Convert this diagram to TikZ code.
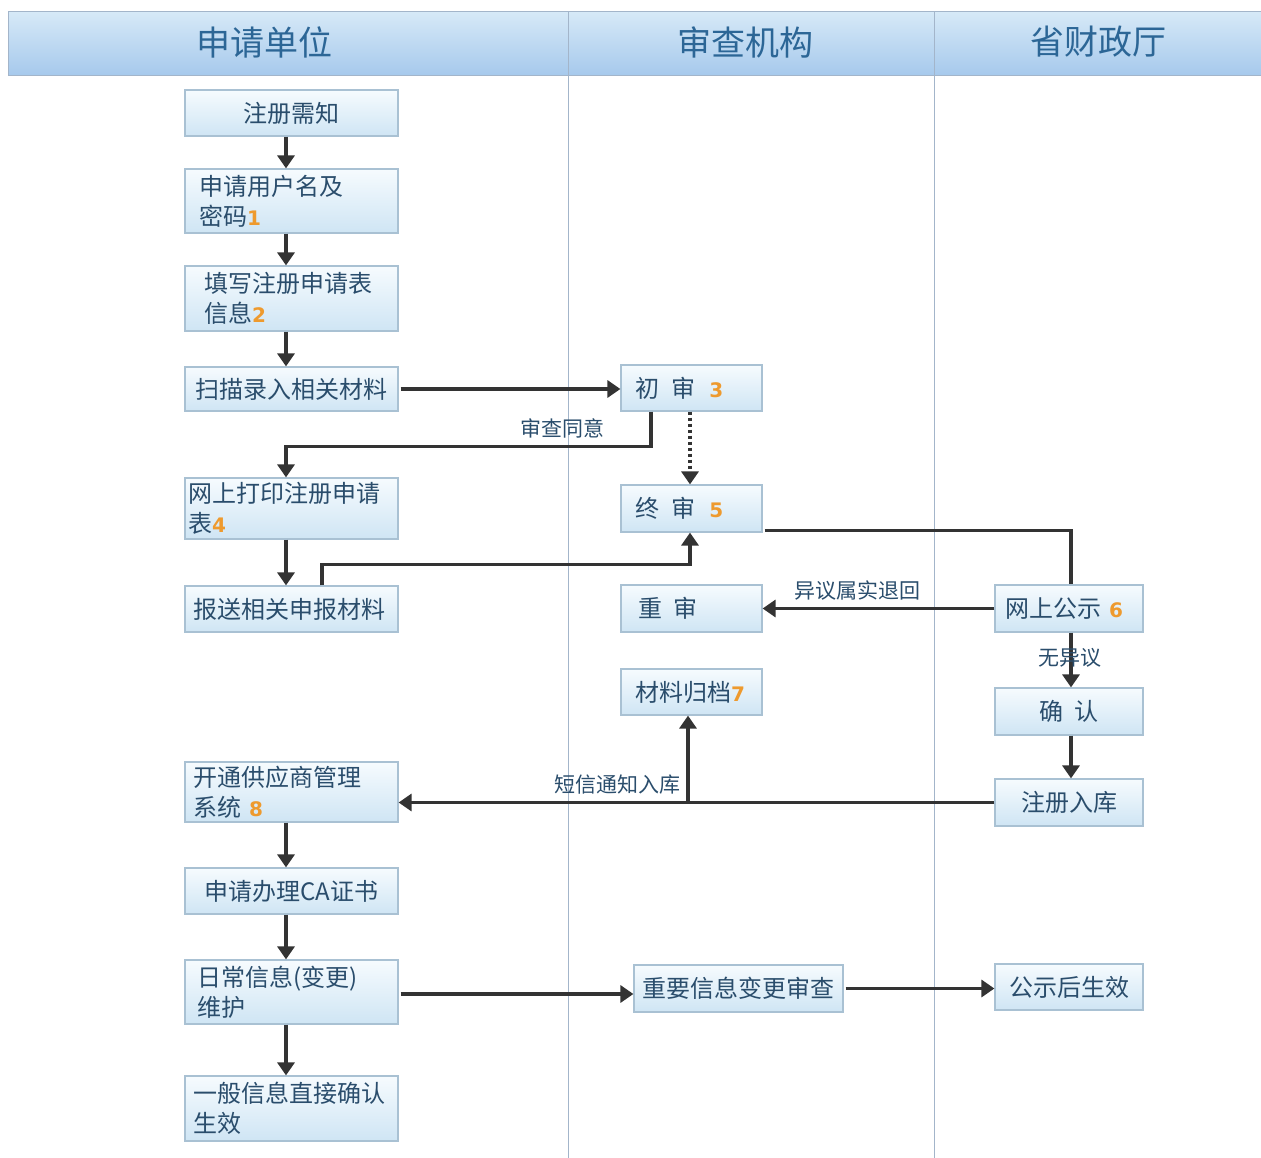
\documentclass[tikz,border=0pt]{standalone}
\usepackage{fontspec}
\setmainfont{Noto Sans CJK SC}
\newfontfamily\numfont{DejaVu Sans}
\usetikzlibrary{arrows.meta}
\definecolor{txt}{HTML}{2A4D6C}
\definecolor{hdtxt}{HTML}{2C6696}
\definecolor{boxline}{HTML}{A9C1D3}
\definecolor{boxtop}{HTML}{F6FBFE}
\definecolor{boxbot}{HTML}{CFE5F4}
\definecolor{hdtop}{HTML}{D6E9F7}
\definecolor{hdmid}{HTML}{EEF8FD}
\definecolor{hdbot}{HTML}{A6C9EC}
\definecolor{divline}{HTML}{A3B5CA}
\definecolor{arr}{HTML}{333333}
\definecolor{numor}{HTML}{EE9A2E}
\newcommand\orn[1]{{\numfont\bfseries\fontsize{20}{24}\selectfont\color{numor}#1}}
\tikzset{
  box/.style={draw=boxline, line width=1.2pt, top color=boxtop, bottom color=boxbot,
    inner ysep=0pt, font=\fontsize{24}{30}\selectfont, text=txt},
  L/.style={box, minimum height=#1, text width=197pt, inner xsep=8pt, align=left},
  LC/.style={box, minimum height=#1, text width=197pt, inner xsep=8pt, align=center},
  M/.style={box, minimum height=#1, text width=113pt, inner xsep=14pt, align=left},
  R/.style={box, minimum height=#1, text width=128pt, inner xsep=10pt, align=left},
  RC/.style={box, minimum height=#1, text width=128pt, inner xsep=10pt, align=center},
  flow/.style={line width=3.4pt, draw=arr, -{Triangle[width=17pt,length=13pt]}},
  plain/.style={line width=3.4pt, draw=arr},
  dotflow/.style={line width=3.4pt, draw=arr, dash pattern=on 3.5pt off 2.5pt, -{Triangle[width=17pt,length=13pt]}},
  lbl/.style={font=\fontsize{21}{24}\selectfont, text=txt, inner sep=0pt},
  hd/.style={font=\fontsize{34}{38}\selectfont, text=hdtxt, inner sep=0pt},
}
\begin{document}
\begin{tikzpicture}[x=1pt,y=-1pt]
\useasboundingbox (0,0) rectangle (1261,1158);
\fill[white] (0,0) rectangle (1261,1158);
% header
\shade[top color=hdtop, middle color=hdmid, bottom color=hdbot] (8,12) rectangle (1261,76);
\draw[divline, line width=1pt] (1261,12) -- (8,12) -- (8,76) -- (1261,76);
\draw[divline, line width=1pt] (568,12) -- (568,1158);
\draw[divline, line width=1pt] (934,12) -- (934,1158);
\node[hd] (h1) at (264.5,42) {申请单位};
\node[hd] (h2) at (745,42) {审查机构};
\node[hd] (h3) at (1098,42) {省财政厅};
% left column
\node[LC=46pt] (n1) at (291.5,113) {注册需知};
\node[L=64pt] (n2) at (291.5,201) {\hspace*{6pt}申请用户名及\\\hspace*{6pt}密码\orn{1}};
\node[L=65pt] (n3) at (291.5,298.5) {\hspace*{11pt}填写注册申请表\\\hspace*{11pt}信息\orn{2}};
\node[LC=44pt] (n4) at (291.5,389) {扫描录入相关材料};
\node[L=61pt] (n5) at (291.5,508.5) {\hspace*{-5pt}网上打印注册申请\\\hspace*{-5pt}表\orn{4}};
\node[L=46pt] (n6) at (291.5,609) {报送相关申报材料};
\node[L=60pt] (n7) at (291.5,792) {开通供应商管理\\系统 \orn{8}};
\node[LC=46pt] (n8) at (291.5,891) {申请办理CA证书};
\node[L=64pt] (n9) at (291.5,992) {\hspace*{4pt}日常信息(变更)\\\hspace*{4pt}维护};
\node[L=65pt] (n10) at (291.5,1108.5) {一般信息直接确认\\生效};
% middle column
\node[M=46pt] (m1) at (691.5,388) {初\hspace{0.5em}审\hspace{0.6em}\orn{3}};
\node[M=47pt] (m2) at (691.5,508.5) {终\hspace{0.5em}审\hspace{0.6em}\orn{5}};
\node[M=47pt] (m3) at (691.5,608.5) {\hspace*{3pt}重\hspace{0.5em}审};
\node[M=46pt] (m4) at (691.5,692) {材料归档\orn{7}};
\node[box, minimum height=47pt, text width=201pt, inner xsep=4pt, align=center] (m5) at (738.5,988.5) {重要信息变更审查};
% right column
\node[R=47pt] (r1) at (1069,608.5) {网上公示 \orn{6}};
\node[RC=47pt] (r2) at (1069,711.5) {确\hspace{0.5em}认};
\node[RC=47pt] (r3) at (1069,802.5) {注册入库};
\node[RC=46pt] (r4) at (1069,987) {公示后生效};
% connectors
\draw[flow] ([xshift=-5.5pt]n1.south) -- ([xshift=-5.5pt]n2.north);
\draw[flow] ([xshift=-5.5pt]n2.south) -- ([xshift=-5.5pt]n3.north);
\draw[flow] ([xshift=-5.5pt]n3.south) -- ([xshift=-5.5pt]n4.north);
\draw[flow] ([xshift=2pt]n4.east) -- (n4.east -| m1.west);
\draw[flow] ([xshift=-40.5pt]m1.south) -- ++(0,35) -| ([xshift=-5.5pt]n5.north);
\node[lbl] (l1) at (562,428) {审查同意};
\draw[dotflow] ([xshift=-1.5pt]m1.south) -- ([xshift=-1.5pt]m2.north);
\draw[flow] ([xshift=-5.5pt]n5.south) -- ([xshift=-5.5pt]n6.north);
\draw[flow] ([xshift=30.5pt]n6.north) -- ++(0,-21) -| ([xshift=-1.5pt]m2.south);
\draw[plain] ([yshift=-22pt,xshift=2pt]m2.east) -| ([xshift=2pt]r1.north);
\draw[flow] (r1.west) -- (m3.east);
\node[lbl] (l2) at (857,591) {异议属实退回};
\draw[flow] ([xshift=2pt]r1.south) -- ([xshift=2pt]r2.north);
\node[lbl] (l3) at (1070,658) {无异议};
\draw[flow] ([xshift=2pt]r2.south) -- ([xshift=2pt]r3.north);
\draw[flow] (r3.west) -- (r3.west -| n7.east);
\coordinate (br) at ([xshift=-3.5pt]m4.south |- r3.west);
\draw[flow] (br) -- ([xshift=-3.5pt]m4.south);
\node[lbl] (l4) at (617,785) {短信通知入库};
\draw[flow] ([xshift=-5.5pt]n7.south) -- ([xshift=-5.5pt]n8.north);
\draw[flow] ([xshift=-5.5pt]n8.south) -- ([xshift=-5.5pt]n9.north);
\draw[flow] ([xshift=2pt,yshift=-2pt]n9.east) -- ([yshift=-2pt]n9.east -| m5.west);
\draw[flow] ([xshift=2pt]m5.east) -- (m5.east -| r4.west);
\draw[flow] ([xshift=-5.5pt]n9.south) -- ([xshift=-5.5pt]n10.north);
\end{tikzpicture}
\end{document}
